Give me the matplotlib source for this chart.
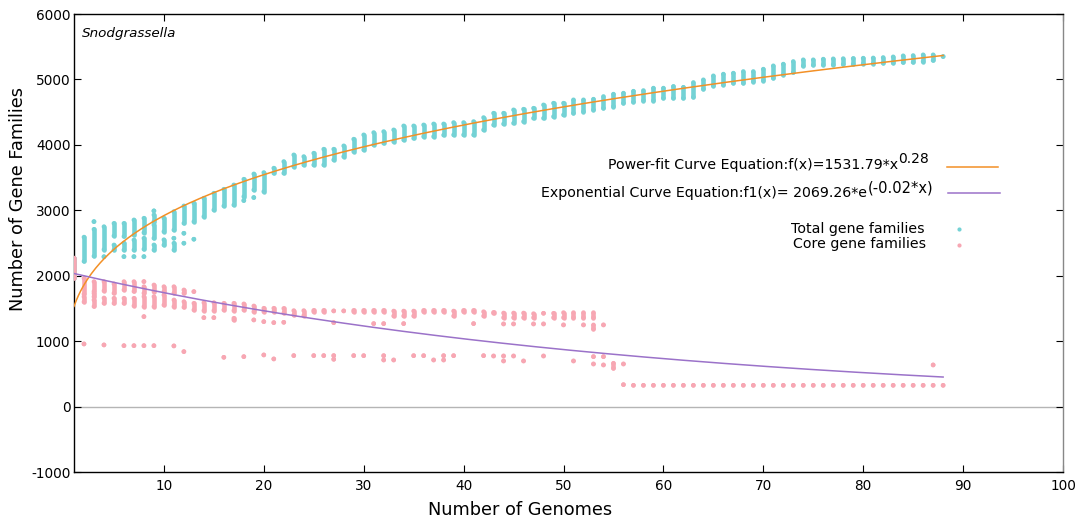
import numpy as np
import matplotlib
matplotlib.use("Agg")
import matplotlib.pyplot as plt

# ---------------- data ----------------
genomes = list(range(1, 89))

# total gene families: main vertical cluster per genome count (lo / hi)
total_lo = [1960, 2220, 2300, 2400, 2610, 2600, 2624, 2659, 2827, 2675,
            2700, 2802, 2827, 2904, 3006, 3067, 3082, 3210, 3312, 3286,
            3567, 3567, 3668, 3694, 3694, 3694, 3771, 3821, 3898, 3924,
            4000, 4025, 4050, 4076, 4100, 4127, 4127, 4150, 4153, 4153,
            4153, 4229, 4305, 4320, 4331, 4356, 4407, 4407, 4432, 4458,
            4484, 4509, 4535, 4560, 4586, 4637, 4655, 4677, 4677, 4714,
            4714, 4714, 4729, 4852, 4902, 4917, 4943, 4943, 4968, 4983,
            5019, 5070, 5106, 5208, 5220, 5223, 5225, 5230, 5232, 5239,
            5242, 5249, 5252, 5259, 5262, 5274, 5290, 5350]
total_hi = [2270, 2590, 2710, 2750, 2800, 2800, 2853, 2879, 2930, 2880,
            2980, 3067, 3108, 3185, 3261, 3322, 3388, 3475, 3556, 3577,
            3644, 3745, 3847, 3821, 3873, 3934, 3934, 3985, 4087, 4153,
            4188, 4203, 4229, 4290, 4290, 4305, 4320, 4320, 4341, 4341,
            4356, 4417, 4484, 4484, 4535, 4545, 4560, 4611, 4637, 4637,
            4688, 4688, 4698, 4739, 4775, 4790, 4820, 4830, 4867, 4867,
            4892, 4880, 4953, 4994, 5055, 5081, 5096, 5121, 5121, 5157,
            5208, 5234, 5274, 5300, 5300, 5310, 5315, 5318, 5320, 5325,
            5328, 5335, 5345, 5361, 5365, 5376, 5376, 5350]
# extra (separate) total clusters
total_extra_n = [3, 4, 5, 6, 6, 7, 7, 8, 8, 9, 9, 9, 10, 11, 11, 12, 12, 13, 18, 19]
total_extra_lo = [2827, 2290, 2394, 2292, 2394, 2292, 2394, 2292, 2405, 2991,
                  2573, 2394, 2470, 2394, 2573, 2497, 2649, 2558, 3149, 3195]
total_extra_hi = [2827, 2290, 2470, 2292, 2500, 2292, 2547, 2292, 2573, 2991,
                  2777, 2471, 2550, 2497, 2573, 2497, 2649, 2558, 3149, 3195]

# core gene families: main cluster per genome count
core_lo = [1960, 1720, 1760, 1770, 1733, 1784, 1760, 1733, 1757, 1757,
           1733, 1733, 1757, 1467, 1467, 1477, 1467, 1477, 1451, 1451,
           1451, 1430, 1400, 1390, 1450, 1450, 1462, 1462, 1450, 1450,
           1450, 1450, 1385, 1385, 1385, 1450, 1450, 1450, 1385, 1450,
           1450, 1385, 1426, 1360, 1360, 1360, 1360, 1426, 1360, 1360,
           1360, 1360, 1360, 1248, 585, 335, 325, 325, 325, 325,
           325, 325, 325, 325, 325, 325, 325, 325, 325, 325,
           325, 325, 325, 325, 325, 325, 325, 325, 325, 325,
           325, 325, 325, 325, 325, 325, 325, 325]
core_hi = [2270, 1960, 1910, 1910, 1875, 1910, 1910, 1833, 1859, 1833,
           1833, 1783, 1757, 1589, 1589, 1579, 1579, 1570, 1538, 1503,
           1503, 1500, 1467, 1467, 1470, 1470, 1462, 1462, 1470, 1470,
           1470, 1470, 1460, 1460, 1460, 1470, 1470, 1470, 1460, 1470,
           1470, 1450, 1440, 1430, 1430, 1430, 1420, 1426, 1426, 1436,
           1436, 1436, 1436, 1248, 662, 335, 325, 325, 325, 325,
           325, 325, 325, 325, 325, 325, 325, 325, 325, 325,
           325, 325, 325, 325, 325, 325, 325, 325, 325, 325,
           325, 325, 325, 325, 325, 325, 325, 325]
# extra (separate) core clusters / isolated points
core_extra_n = [2, 2, 3, 3, 4, 4, 5, 6, 6, 7, 7, 8, 8, 8, 8, 9, 9, 10, 11, 11,
                12, 12, 13, 14, 15, 16, 17, 18, 19, 20, 20, 21, 21, 22, 23,
                25, 26, 27, 27, 27, 29, 30, 31, 32, 32, 32, 33, 34, 35,
                36, 37, 38, 38, 39, 41, 42, 43, 44, 44, 44, 45, 45, 46,
                47, 48, 48, 50, 51, 52, 53, 53, 53, 54, 54, 56, 87]
core_extra_lo = [1600, 957, 1680, 1530, 1580, 942, 1579, 1579, 931, 1540, 931,
                 1910, 1528, 1375, 931, 1528, 931, 1553, 1528, 927, 1518, 840, 1477,
                 1359, 1359, 753, 1324, 763, 1324, 1298, 789, 1283, 728, 1288, 779,
                 779, 779, 1283, 779, 723, 779, 778, 1268, 1268, 778, 712, 712, 1268, 778,
                 778, 712, 778, 712, 778, 1268, 778, 773, 1263, 773, 697, 1263, 773, 697,
                 1263, 1263, 773, 1248, 697, 1248, 1187, 763, 651, 763, 636, 651, 636]
core_extra_hi = [1680, 957, 1730, 1630, 1660, 942, 1656, 1656, 931, 1656, 931,
                 1910, 1681, 1375, 931, 1681, 931, 1706, 1630, 927, 1604, 840, 1579,
                 1359, 1359, 753, 1350, 763, 1324, 1298, 789, 1283, 728, 1288, 779,
                 779, 779, 1283, 779, 723, 779, 778, 1268, 1268, 778, 712, 712, 1268, 778,
                 778, 712, 778, 712, 778, 1268, 778, 773, 1263, 773, 697, 1263, 773, 697,
                 1263, 1263, 773, 1248, 697, 1248, 1248, 763, 651, 763, 636, 651, 636]

# fitted curves
power_a, power_b = 1531.79, 0.28
exp_a, exp_b = 2069.26, -0.0173
fit_range = (1, 88)

x_ticks = [10, 20, 30, 40, 50, 60, 70, 80, 90, 100]
y_ticks = [-1000, 0, 1000, 2000, 3000, 4000, 5000, 6000]

# ---------------- style ----------------
TEAL = "#74d2d5"
PINK = "#f7a7b3"
ORANGE = "#f39026"
PURPLE = "#9b72c9"
W, H = 1077, 521

plt.rcParams["font.family"] = ["DejaVu Sans"]
plt.rcParams["axes.unicode_minus"] = False
fig = plt.figure(figsize=(W / 100, H / 100), dpi=100)
ax = fig.add_axes([74 / W, 1 - 472 / H, 989 / W, 458 / H])

def fx(px):
    return px / W

def fy(py):
    return 1 - py / H

def draw_clusters(n, lo, hi, color, z):
    n = np.asarray(n, float)
    lo = np.asarray(lo, float)
    hi = np.asarray(hi, float)
    seg = hi > lo
    lc = ax.vlines(n[seg], lo[seg], hi[seg], colors=color, linewidth=3.3, zorder=z)
    lc.set_capstyle("round")
    ax.scatter(np.concatenate([n, n]), np.concatenate([lo, hi]), s=11,
               color=color, edgecolors="none", zorder=z)

ax.axhline(0, color="#b5b5b5", lw=1.0, zorder=1)

draw_clusters(genomes, total_lo, total_hi, TEAL, 2)
draw_clusters(total_extra_n, total_extra_lo, total_extra_hi, TEAL, 2)
draw_clusters(genomes, core_lo, core_hi, PINK, 3)
draw_clusters(core_extra_n, core_extra_lo, core_extra_hi, PINK, 3)

xf = np.linspace(fit_range[0], fit_range[1], 400)
ax.plot(xf, power_a * xf ** power_b, color=ORANGE, lw=1.1, zorder=4)
ax.plot(xf, exp_a * np.exp(exp_b * xf), color=PURPLE, lw=1.1, zorder=4)

ax.set_xlim(1, 100)
ax.set_ylim(-1000, 6000)
ax.set_xticks(x_ticks)
ax.set_yticks(y_ticks)
ax.tick_params(direction="in", length=5, width=0.8, top=True, right=True,
               labelsize=9.8, colors="black")
ax.tick_params(axis="x", pad=5)
ax.tick_params(axis="y", pad=2.5)
for s in ax.spines.values():
    s.set_linewidth(1.0)
ax.spines["right"].set_color("#888888")
for t in ax.yaxis.get_major_ticks():
    t.tick2line.set_color("#888888")

# title and axis labels
fig.text(fx(82), fy(37), "Snodgrassella", style="italic", fontsize=9.7,
         ha="left", va="baseline")
fig.text(fx(520), fy(510), "Number of Genomes", fontsize=12.8, ha="center", va="center")
fig.text(fx(18), fy(199), "Number of Gene Families", fontsize=12.8, rotation=90,
         ha="center", va="center")

# custom key
sup1 = fig.text(fx(929), fy(163.5), "0.28", fontsize=10, ha="right", va="baseline")
fig.add_artist(plt.Annotation("Power-fit Curve Equation:f(x)=1531.79*x", xy=(0, fy(169.3)),
                              xycoords=(sup1, "figure fraction"), ha="right", va="baseline",
                              fontsize=10.2))
sup2 = fig.text(fx(933), fy(192.5), "(-0.02*x)", fontsize=10.5, ha="right", va="baseline")
fig.add_artist(plt.Annotation("Exponential Curve Equation:f1(x)= 2069.26*e", xy=(0, fy(196.7)),
                              xycoords=(sup2, "figure fraction"), ha="right", va="baseline",
                              fontsize=10.2))
fig.add_artist(plt.Line2D([fx(947), fx(998)], [fy(166.7), fy(166.7)], color=ORANGE, lw=1.1))
fig.add_artist(plt.Line2D([fx(948), fx(1000)], [fy(192.7), fy(192.7)], color=PURPLE, lw=1.1))

fig.text(fx(925), fy(233.3), "Total gene families", fontsize=10.2, ha="right", va="baseline")
fig.text(fx(926), fy(247.7), "Core gene families", fontsize=10.2, ha="right", va="baseline")
fig.add_artist(plt.Line2D([fx(959)], [fy(229.3)], marker="o", markersize=3,
                          color=TEAL, markeredgewidth=0, linestyle="none"))
fig.add_artist(plt.Line2D([fx(959)], [fy(245.3)], marker="o", markersize=3,
                          color=PINK, markeredgewidth=0, linestyle="none"))

fig.savefig("out.png", dpi=100)
